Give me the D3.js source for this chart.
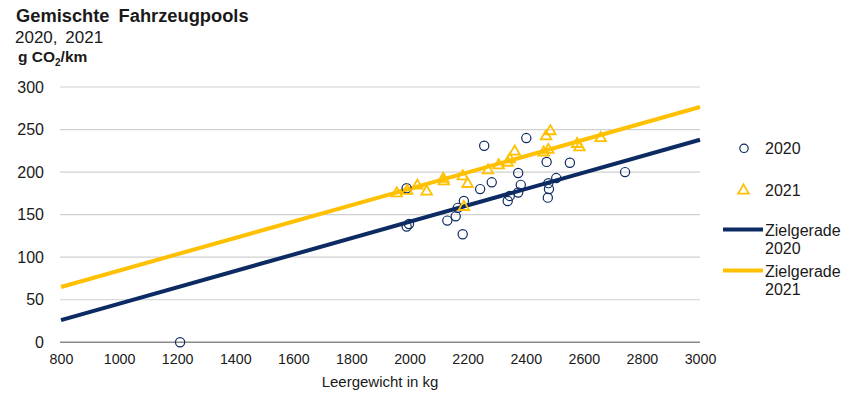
<!DOCTYPE html>
<html><head><meta charset="utf-8">
<script src="https://cdn.jsdelivr.net/npm/d3@7"></script>
<style>body{margin:0;background:#fff;} svg{display:block;font-family:"Liberation Sans",Arial,sans-serif;}</style>
</head><body>
<svg id="c" width="849" height="393"></svg>
<script>
const xTicks = [800,1000,1200,1400,1600,1800,2000,2200,2400,2600,2800,3000];
const yTicks = [0,50,100,150,200,250,300];
const mass2020 = [1210,1990,1990,1998,2130,2159,2166,2187,2183,2257,2243,2283,2338,2345,2374,2374,2383,2402,2472,2478,2480,2476,2505,2552,2742];
const co2_2020 = [0,181,136,139,143,148,158,166,127,231,180,188,166,172,199,176,185,240,212,187,180,170,193,211,200];
const mass2021 = [1956,1992,2027,2059,2116,2118,2183,2200,2187,2270,2307,2338,2345,2362,2462,2478,2470,2485,2577,2585,2658];
const co2_2021 = [176,179,185,178,193,190,196,187,160,203,209,212,216,225,224,227,243,249,234,230,241];
const lineMass = [800,3000];
const target2020 = [26,238];
const target2021 = [65,276.5];
const legendLabels = ["2020","2021",["Zielgerade","2020"],["Zielgerade","2021"]];

const NAVY = "#0d2b63", YEL = "#ffc000";
const svg = d3.select("#c");
const x = d3.scaleLinear().domain([800,3000]).range([61,700]);
const y = d3.scaleLinear().domain([0,300]).range([342.3,87]);

// title
svg.append("text").attr("x",16).attr("y",22).attr("font-size",18.3).attr("font-weight","bold").attr("word-spacing",4).attr("fill","#1a1a1a").text("Gemischte Fahrzeugpools");
svg.append("text").attr("x",15).attr("y",43).attr("font-size",17).attr("word-spacing",3).attr("fill","#1a1a1a").text("2020, 2021");
const u = svg.append("text").attr("x",18).attr("y",62).attr("font-size",15.5).attr("font-weight","bold").attr("fill","#1a1a1a");
u.append("tspan").text("g CO");
u.append("tspan").attr("font-size",10).attr("dy",4).text("2");
u.append("tspan").attr("dy",-4).text("/km");

// grid
svg.append("g").selectAll("line").data(yTicks).join("line")
  .attr("x1",60).attr("x2",700).attr("y1",d=>y(d)).attr("y2",d=>y(d))
  .attr("stroke",d=>d===0?"#8a8a8a":"#d0d0d0").attr("stroke-width",d=>d===0?1.5:1.2);

// y axis labels
const ya = svg.append("g").attr("transform","translate(60,0)")
  .call(d3.axisLeft(y).tickValues(yTicks).tickSize(0).tickPadding(16));
ya.select(".domain").remove();
ya.selectAll("text").attr("font-size",16).attr("font-family","Liberation Sans, Arial, sans-serif").attr("fill","#1a1a1a");

// x axis labels
const xa = svg.append("g").attr("transform","translate(0,342.3)")
  .call(d3.axisBottom(x).tickValues(xTicks).tickFormat(d3.format("d")).tickSize(0).tickPadding(11));
xa.select(".domain").remove();
xa.selectAll("text").attr("font-size",15.5).attr("font-family","Liberation Sans, Arial, sans-serif").attr("fill","#1a1a1a")
  .attr("transform","scale(0.92,1)");
xa.selectAll(".tick").each(function(d){ d3.select(this).select("text").attr("x",0); });
svg.append("text").attr("x",380).attr("y",387).attr("text-anchor","middle").attr("font-size",15).attr("fill","#1a1a1a").text("Leergewicht in kg");

// target lines
const lineGen = d3.line().x(d=>x(d[0])).y(d=>y(d[1]));
svg.append("path").attr("d",lineGen(lineMass.map((m,i)=>[m,target2020[i]]))).attr("stroke",NAVY).attr("stroke-width",4).attr("fill","none");
svg.append("path").attr("d",lineGen(lineMass.map((m,i)=>[m,target2021[i]]))).attr("stroke",YEL).attr("stroke-width",4).attr("fill","none");

// points 2020
svg.append("g").selectAll("circle").data(mass2020.map((m,i)=>[m,co2_2020[i]])).join("circle")
  .attr("cx",d=>x(d[0])).attr("cy",d=>y(d[1])).attr("r",4.6)
  .attr("fill","none").attr("stroke",NAVY).attr("stroke-width",1.2);

// points 2021
const tri = d3.symbol().type(d3.symbolTriangle).size(48);
svg.append("g").selectAll("path").data(mass2021.map((m,i)=>[m,co2_2021[i]])).join("path")
  .attr("d",tri).attr("transform",d=>`translate(${x(d[0])},${y(d[1])+0.8})`)
  .attr("fill","none").attr("stroke",YEL).attr("stroke-width",1.8);

// legend
const lg = svg.append("g");
lg.append("circle").attr("cx",744).attr("cy",148.3).attr("r",4.2).attr("fill","none").attr("stroke",NAVY).attr("stroke-width",1.2);
lg.append("text").attr("x",765).attr("y",154).attr("font-size",16).attr("fill","#1a1a1a").text(legendLabels[0]);
lg.append("path").attr("d",tri).attr("transform","translate(743.5,190.5)").attr("fill","none").attr("stroke",YEL).attr("stroke-width",1.8);
lg.append("text").attr("x",765).attr("y",195.5).attr("font-size",16).attr("fill","#1a1a1a").text(legendLabels[1]);
lg.append("line").attr("x1",723).attr("x2",763).attr("y1",229.5).attr("y2",229.5).attr("stroke",NAVY).attr("stroke-width",4);
lg.append("text").attr("x",765).attr("y",235.5).attr("font-size",16).attr("fill","#1a1a1a").text(legendLabels[2][0]);
lg.append("text").attr("x",765).attr("y",254).attr("font-size",16).attr("fill","#1a1a1a").text(legendLabels[2][1]);
lg.append("line").attr("x1",723).attr("x2",763).attr("y1",270.5).attr("y2",270.5).attr("stroke",YEL).attr("stroke-width",4);
lg.append("text").attr("x",765).attr("y",276.5).attr("font-size",16).attr("fill","#1a1a1a").text(legendLabels[3][0]);
lg.append("text").attr("x",765).attr("y",295).attr("font-size",16).attr("fill","#1a1a1a").text(legendLabels[3][1]);
</script>
</body></html>
